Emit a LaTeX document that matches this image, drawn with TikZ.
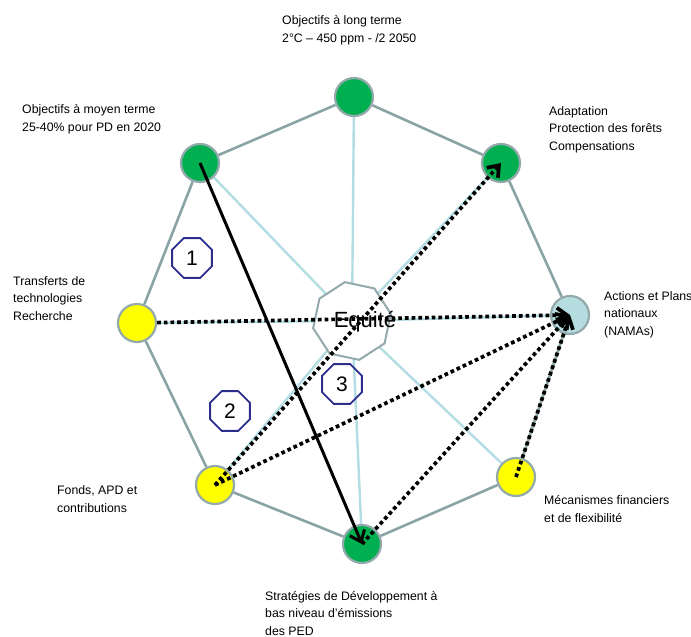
\documentclass[tikz,border=0pt]{standalone}
\usepackage{fontspec}
\setmainfont{Liberation Sans}
\usetikzlibrary{arrows.meta, shapes.geometric, backgrounds}
\definecolor{leafgreen}{HTML}{00B050}
\definecolor{sunyellow}{HTML}{FFFF00}
\definecolor{paleblue}{HTML}{B5DDE0}
\definecolor{ringgray}{HTML}{93A9AB}
\definecolor{rimgray}{HTML}{8AA4A6}
\definecolor{spokeblue}{HTML}{B3DDE2}
\definecolor{tagnavy}{HTML}{2B2E8C}

\begin{document}
\begin{tikzpicture}[x=1pt, y=-1pt,
  goal/.style={circle, draw=ringgray, line width=2.2pt, minimum size=38pt, inner sep=0pt},
  rim/.style={rimgray, line width=2.6pt},
  spoke/.style={spokeblue, line width=2.4pt},
  numtag/.style={regular polygon, regular polygon sides=8, draw=tagnavy, line width=1.8pt,
    minimum size=43pt, inner sep=0pt, font=\fontsize{21}{21}\selectfont},
  lbl/.style={anchor=base west, align=left, inner sep=0pt,
    font=\fontsize{12.3}{17.4}\selectfont},
  dotarrow/.style={line width=3.7pt, dash pattern=on 3.7pt off 3pt,
    -{Straight Barb[length=10pt, width=15pt]}},
  solidarrow/.style={line width=3pt, -{Straight Barb[length=10pt, width=16pt]}}]

\useasboundingbox (0,0) rectangle (691,637);

% --- Outer ring of objectives ---
\node[goal, fill=leafgreen] (long) at (354,97) {};
\node[goal, fill=leafgreen] (adapt) at (501,163) {};
\node[goal, fill=paleblue] (nama) at (570,315) {};
\node[goal, fill=sunyellow] (meca) at (516,477) {};
\node[goal, fill=leafgreen] (ped) at (362,544) {};
\node[goal, fill=sunyellow] (fonds) at (215,485) {};
\node[goal, fill=sunyellow] (transf) at (137,323) {};
\node[goal, fill=leafgreen] (moyen) at (200,163) {};

% --- Centre ---
\node[regular polygon, regular polygon sides=8, shape border rotate=-12,
  minimum size=79pt, fill=white, draw=ringgray, line width=2pt] (eq) at (352,321) {};
\node[font=\fontsize{22}{22}\selectfont, inner sep=0pt] (eqtext) at (365,322) {Equité};

% --- Numbered tags ---
\node[numtag] (n1) at (192,258) {1};
\node[numtag] (n2) at (230,411) {2};
\node[numtag] (n3) at (342,384) {3};

% --- Ring and spokes ---
\begin{scope}[on background layer]
\foreach \a/\b in {long/adapt, adapt/nama, nama/meca, meca/ped,
                   ped/fonds, fonds/transf, transf/moyen, moyen/long}
  \draw[rim] (\a) -- (\b);
\foreach \a in {long, adapt, nama, meca, ped, fonds, transf, moyen}
  \draw[spoke] (\a) -- (eq.center);
\end{scope}

% --- Arrows ---
\draw[dotarrow] (fonds.center) -- (adapt.center);
\draw[dotarrow] (fonds.center) -- (nama.center);
\draw[dotarrow] (transf) -- (nama.center);
\draw[dotarrow] (ped.center) -- (nama.center);
\draw[dotarrow] (meca.center) -- (nama.center);
\draw[solidarrow] (moyen.center) -- (ped.center);

% --- Labels (anchored on the baseline of the last line) ---
\node[lbl] (tlong) at (282,42) {Objectifs à long terme\\2°C – 450 ppm - /2 2050};
\node[lbl] (tmoyen) at (22,131) {Objectifs à moyen terme\\25-40\% pour PD en 2020};
\node[lbl] (tadapt) at (549,150) {Adaptation\\Protection des forêts\\Compensations};
\node[lbl] (ttransf) at (13,320) {Transferts de\\technologies\\Recherche};
\node[lbl] (tnama) at (604,335) {Actions et Plans\\nationaux\\(NAMAs)};
\node[lbl] (tfonds) at (57,512) {Fonds, APD et\\contributions};
\node[lbl] (tmeca) at (544,522) {Mécanismes financiers\\et de flexibilité};
\node[lbl] (tped) at (265,635) {Stratégies de Développement à\\bas niveau d’émissions\\des PED};

\end{tikzpicture}
\end{document}
